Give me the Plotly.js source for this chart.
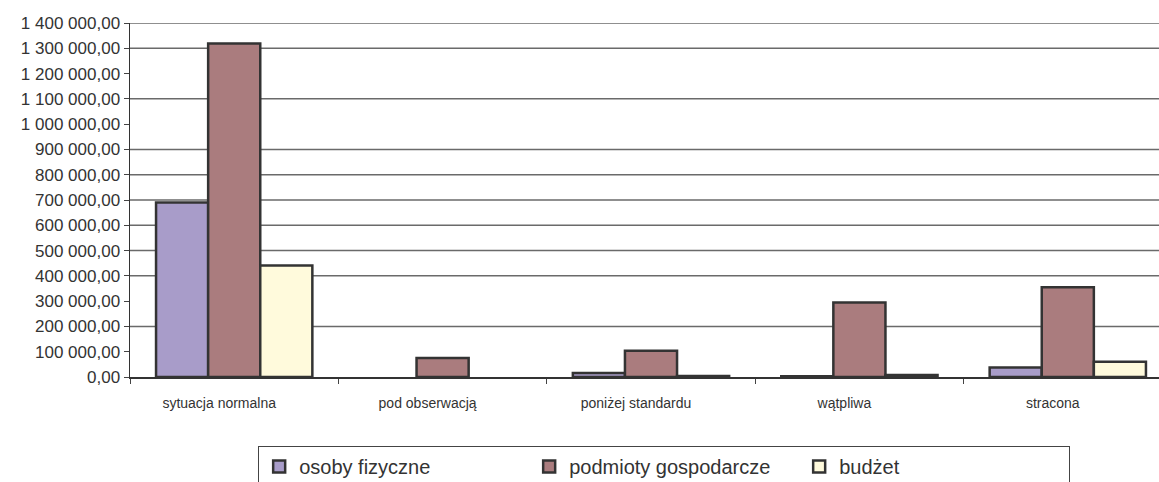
<!DOCTYPE html>
<html>
<head>
<meta charset="utf-8">
<script src="https://cdn.plot.ly/plotly-3.0.1.min.js"></script>
<style>
html,body{margin:0;padding:0;background:#fff;overflow:hidden;}
#chart{width:1180px;height:482px;}
</style>
</head>
<body>
<div id="chart"></div>
<script>
const categories = ["sytuacja normalna", "pod obserwacją", "poniżej standardu", "wątpliwa", "stracona"];
const seriesNames = ["osoby fizyczne", "podmioty gospodarcze", "budżet"];
const osobyFizyczne = [690000, null, 16000, 3000, 38000];
const podmiotyGospodarcze = [1319000, 75000, 104000, 295000, 355000];
const budzet = [441000, null, 4000, 8000, 60000];
const yTickValues = [0, 100000, 200000, 300000, 400000, 500000, 600000, 700000, 800000, 900000, 1000000, 1100000, 1200000, 1300000, 1400000];
const gridValues = [200000, 400000, 500000, 600000, 700000, 800000, 900000, 1100000, 1300000, 1400000];
const colors = ["#A89CC9", "#AA7C7E", "#FFFADC"];

const seriesValues = [osobyFizyczne, podmiotyGospodarcze, budzet];
const traces = seriesNames.map((name, i) => ({
  type: "bar",
  name: name,
  x: categories,
  y: seriesValues[i],
  marker: { color: colors[i], line: { color: "#333333", width: 2.5 } },
  hoverinfo: "none"
}));

const gridShapes = gridValues.map(v => ({
  type: "line",
  xref: "paper", x0: 0, x1: 1,
  yref: "y", y0: v, y1: v,
  line: { color: "#6a6a6a", width: 1.5 },
  layer: "below"
}));

const font = "Liberation Sans, Arial, sans-serif";
const layout = {
  width: 1180,
  height: 482,
  margin: { l: 130, r: 8, t: 23, b: 105, autoexpand: false },
  paper_bgcolor: "#ffffff",
  plot_bgcolor: "#ffffff",
  separators: ", ",
  barmode: "group",
  bargap: 0.25,
  bargroupgap: 0,
  showlegend: true,
  font: { family: font, color: "#333333" },
  shapes: gridShapes,
  xaxis: {
    type: "category",
    tickson: "boundaries",
    ticks: "outside",
    ticklen: 5,
    tickcolor: "#444",
    showline: true,
    linecolor: "#333",
    linewidth: 1.5,
    showgrid: false,
    zeroline: false,
    tickfont: { family: font, size: 14, color: "#333" },
    ticklabelstandoff: 13,
    ticklabelshift: -15
  },
  yaxis: {
    range: [0, 1400000],
    tickvals: yTickValues,
    tickformat: ",.2f",
    ticks: "outside",
    ticklen: 5,
    tickcolor: "#444",
    showline: true,
    linecolor: "#333",
    linewidth: 1.5,
    showgrid: false,
    zeroline: false,
    tickfont: { family: font, size: 17, color: "#333" }
  },
  legend: {
    orientation: "h",
    x: 0.123,
    xanchor: "left",
    y: -0.195,
    yanchor: "top",
    bgcolor: "#ffffff",
    bordercolor: "#444",
    borderwidth: 1,
    itemwidth: 30,
    entrywidth: 225,
    entrywidthmode: "pixels",
    font: { family: font, size: 20, color: "#333" },
    traceorder: "normal"
  }
};

Plotly.newPlot("chart", traces, layout, { displayModeBar: false, staticPlot: true });
</script>
</body>
</html>
